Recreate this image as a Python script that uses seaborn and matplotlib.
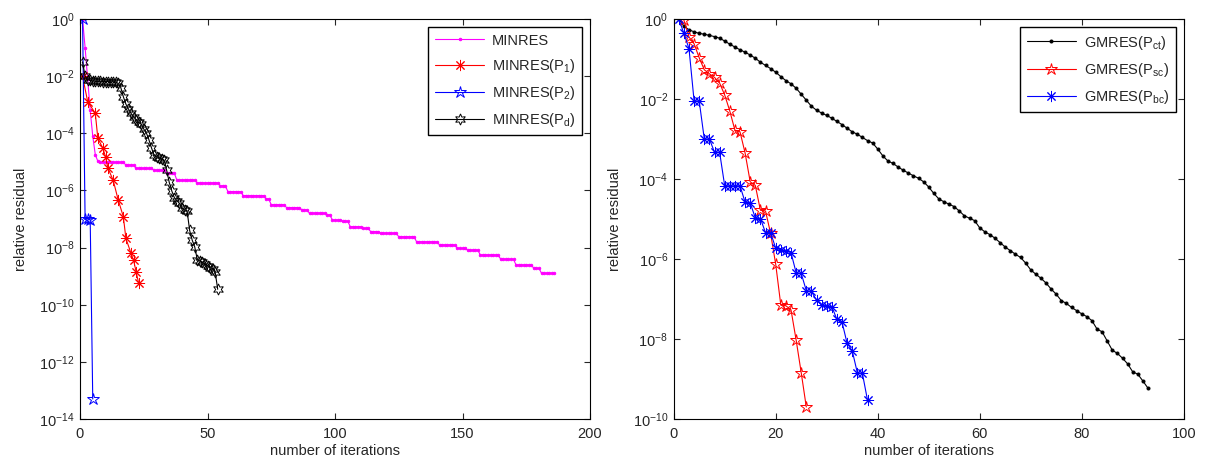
import numpy as np
import matplotlib
matplotlib.use("Agg")
import matplotlib.pyplot as plt
import seaborn as sns

# values are stored as log10(relative residual)

# --- left panel: MINRES ---
minres_head_it = [1, 2, 3, 4, 5, 6, 7]
minres_head_exp = [0.0, -1.0, -2.1, -3.2, -4.1, -4.75, -4.98]
# staircase part: iteration where each plateau starts and its level
minres_step_start = [8, 18, 22, 29, 34, 38, 46, 55, 58, 64, 73, 75, 81, 87, 90, 97,
                     99, 103, 106, 111, 114, 118, 125, 132, 141, 148, 152, 157, 165,
                     171, 178, 181]
minres_step_exp = [-5.02, -5.11, -5.23, -5.29, -5.40, -5.64, -5.74, -5.84, -6.04, -6.18,
                   -6.30, -6.50, -6.60, -6.68, -6.80, -6.86, -7.04, -7.08, -7.27, -7.33,
                   -7.44, -7.50, -7.62, -7.80, -7.91, -8.03, -8.09, -8.26, -8.41, -8.61,
                   -8.73, -8.90]
minres_last_it = 186

p1_it = [1, 3, 6, 7, 9, 10, 11, 13, 15, 17, 18, 20, 21, 22, 23]
p1_exp = [-2.0, -2.89, -3.3, -4.18, -4.53, -4.82, -5.23, -5.64, -6.34, -6.92, -7.68,
          -8.2, -8.44, -8.84, -9.25]

p2_it = [1, 2, 3, 4, 5]
p2_exp = [0.0, -7.0, -7.0, -7.02, -13.3]

pd_it = list(range(1, 55))
pd_exp = [-1.5, -2.0, -2.12, -2.15, -2.17, -2.17, -2.18, -2.18, -2.19, -2.19, -2.19,
          -2.2, -2.2, -2.21, -2.25, -2.4, -2.72, -2.98, -3.15, -3.3, -3.42, -3.52,
          -3.62, -3.68, -3.85, -3.98, -4.22, -4.5, -4.75, -4.82, -4.86, -4.9, -4.94,
          -5.3, -5.72, -6.02, -6.25, -6.36, -6.45, -6.62, -6.68, -6.72, -7.4, -7.74,
          -7.98, -8.42, -8.47, -8.52, -8.58, -8.63, -8.7, -8.74, -8.85, -9.46]

# --- right panel: GMRES ---
ct_it = list(range(1, 94))
ct_exp = [0.0, -0.18, -0.27, -0.32, -0.36, -0.38, -0.41, -0.44, -0.48, -0.55, -0.63,
          -0.70, -0.77, -0.83, -0.90, -0.98, -1.08, -1.16, -1.24, -1.33, -1.44, -1.54,
          -1.62, -1.73, -1.88, -2.03, -2.18, -2.28, -2.35, -2.41, -2.48, -2.56, -2.64,
          -2.73, -2.82, -2.88, -2.96, -3.04, -3.10, -3.25, -3.42, -3.55, -3.61, -3.70,
          -3.78, -3.85, -3.92, -3.98, -4.07, -4.20, -4.36, -4.50, -4.57, -4.63, -4.69,
          -4.80, -4.92, -4.98, -5.04, -5.22, -5.32, -5.39, -5.48, -5.59, -5.70, -5.79,
          -5.88, -5.96, -6.10, -6.27, -6.38, -6.48, -6.60, -6.75, -6.88, -7.04, -7.11,
          -7.21, -7.29, -7.37, -7.44, -7.54, -7.75, -7.82, -8.05, -8.28, -8.36, -8.48,
          -8.62, -8.82, -8.88, -9.05, -9.23]

sc_it = list(range(2, 27))
sc_exp = [-0.03, -0.45, -0.62, -0.97, -1.27, -1.37, -1.46, -1.6, -1.9, -2.3, -2.78,
          -2.82, -3.35, -4.07, -4.16, -4.78, -4.8, -5.36, -6.13, -7.15, -7.17, -7.27,
          -8.02, -8.84, -9.7]

bc_it = list(range(1, 39))
bc_exp = [0.0, -0.36, -0.74, -2.05, -2.05, -3.0, -3.0, -3.33, -3.33, -4.17, -4.17,
          -4.17, -4.17, -4.58, -4.6, -4.97, -4.99, -5.34, -5.34, -5.73, -5.77, -5.8,
          -5.84, -6.34, -6.36, -6.79, -6.81, -7.03, -7.15, -7.18, -7.19, -7.51, -7.57,
          -8.11, -8.29, -8.84, -8.86, -9.53]

# build the MINRES series from its plateaus
lengths = np.diff(minres_step_start + [minres_last_it + 1])
minres_it = np.concatenate([minres_head_it, np.arange(minres_step_start[0], minres_last_it + 1)])
minres_exp = np.concatenate([minres_head_exp, np.repeat(minres_step_exp, lengths)])

sns.set_style("ticks")
plt.rcParams["font.family"] = ["Liberation Sans", "DejaVu Sans"]
plt.rcParams["mathtext.default"] = "regular"
plt.rcParams["font.size"] = 10.5
plt.rcParams["axes.linewidth"] = 0.8
plt.rcParams["xtick.direction"] = "in"
plt.rcParams["ytick.direction"] = "in"

fig = plt.figure(figsize=(12.09, 4.67), dpi=100)
ax1 = fig.add_axes([80 / 1209, 1 - 419 / 467, 510 / 1209, 400 / 467])
ax2 = fig.add_axes([673.7 / 1209, 1 - 419 / 467, 510 / 1209, 400 / 467])

lw = 0.8
mew = 0.7


def draw(ax, it, ex, color, marker, ms, label, mfc=None):
    kw = dict(color=color, marker=marker, markersize=ms, markeredgewidth=mew,
              linewidth=lw, label=label, markeredgecolor=color)
    kw["markerfacecolor"] = color if mfc is None else mfc
    sns.lineplot(x=np.asarray(it), y=10.0 ** np.asarray(ex), ax=ax,
                 estimator=None, sort=False, **kw)


draw(ax1, minres_it, minres_exp, "#ff00ff", "o", 1.8, "MINRES")
draw(ax1, p1_it, p1_exp, "red", (8, 2, 0), 8, "MINRES(P$_1$)")
draw(ax1, p2_it, p2_exp, "blue", "*", 9, "MINRES(P$_2$)", mfc="none")
draw(ax1, pd_it, pd_exp, "black", (6, 1, 0), 8, "MINRES(P$_d$)", mfc="none")

draw(ax2, ct_it, ct_exp, "black", "o", 2.2, "GMRES(P$_{ct}$)")
draw(ax2, sc_it, sc_exp, "red", "*", 9, "GMRES(P$_{sc}$)", mfc="none")
draw(ax2, bc_it, bc_exp, "blue", (8, 2, 0), 8, "GMRES(P$_{bc}$)")

for ax, xmax, xstep, ymin in [(ax1, 200, 50, -14), (ax2, 100, 20, -10)]:
    ax.set_yscale("log")
    ax.set_xlim(0, xmax)
    ax.set_ylim(10.0 ** ymin, 1)
    ax.set_xticks(np.arange(0, xmax + 1, xstep))
    ax.set_yticks(10.0 ** np.arange(ymin, 1, 2))
    ax.yaxis.set_minor_locator(matplotlib.ticker.NullLocator())
    ax.tick_params(which="both", top=True, right=True, length=4, width=0.8,
                   labelsize=10.5)
    ax.tick_params(axis="x", pad=6)
    ax.tick_params(axis="y", pad=4)
    for s in ax.spines.values():
        s.set_visible(True)
        s.set_color("black")
    ax.set_xlabel("number of iterations", fontsize=10.5, labelpad=2)
    ax.set_ylabel("relative residual", fontsize=10.5, labelpad=8)
    leg = ax.legend(loc="upper right", fancybox=False, framealpha=1,
                    edgecolor="black", borderaxespad=0.55, handlelength=3.4,
                    labelspacing=0.62, borderpad=0.45, handletextpad=0.5,
                    fontsize=10.5)
    leg.get_frame().set_linewidth(1.0)

fig.savefig("out.png", dpi=100)
